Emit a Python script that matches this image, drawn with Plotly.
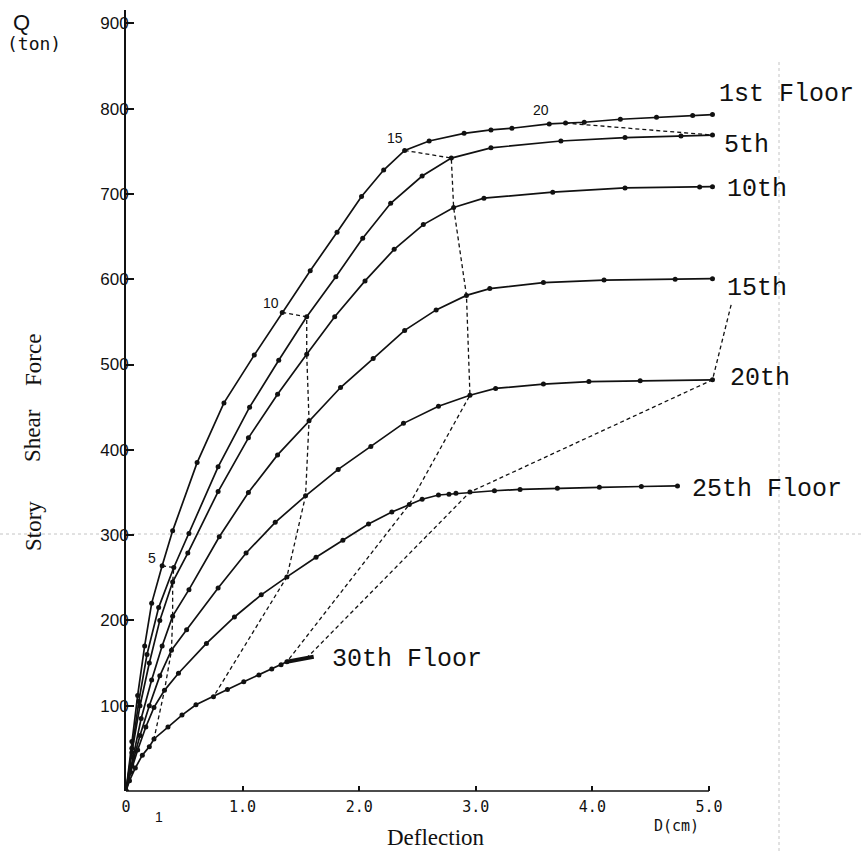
import plotly.graph_objects as go

# ---- story shear force Q (ton) vs. deflection D (cm), one curve per floor ----
FLOORS = ["1st", "5th", "10th", "15th", "20th", "25th", "30th"]

D_1ST = [0, 0.05, 0.10, 0.16, 0.22, 0.31, 0.40, 0.61, 0.84, 1.10, 1.34, 1.58, 1.81, 2.02,
         2.21, 2.39, 2.60, 2.90, 3.13, 3.31, 3.63, 3.77, 3.93, 4.24, 4.55, 4.86, 5.03]
Q_1ST = [0, 58, 112, 170, 220, 264, 305, 385, 455, 511, 561, 610, 655, 697,
         728, 751, 762, 771, 775, 777, 782, 783, 784, 787.5, 790, 792, 793]

D_5TH = [0, 0.05, 0.11, 0.18, 0.28, 0.41, 0.54, 0.79, 1.06, 1.31, 1.55, 1.80, 2.03, 2.27,
         2.54, 2.79, 3.13, 3.73, 4.28, 4.76, 5.03]
Q_5TH = [0, 50, 105, 160, 215, 262, 302, 380, 450, 505, 556, 603, 648, 689,
         721, 742, 754, 762, 766, 768, 769]

D_10TH = [0, 0.05, 0.12, 0.20, 0.29, 0.40, 0.53, 0.79, 1.05, 1.30, 1.55, 1.79, 2.05, 2.30,
          2.55, 2.81, 3.07, 3.66, 4.28, 4.92, 5.03]
Q_10TH = [0, 45, 100, 150, 200, 245, 279, 351, 414, 465, 512, 556, 598, 635,
          664, 684, 695, 702, 707, 708, 708.5]

D_15TH = [0, 0.06, 0.13, 0.22, 0.31, 0.40, 0.54, 0.80, 1.05, 1.30, 1.57, 1.84, 2.12, 2.39,
          2.66, 2.92, 3.12, 3.58, 4.10, 4.71, 5.03]
Q_15TH = [0, 40, 85, 130, 170, 205, 236, 298, 350, 394, 434, 473, 507, 540,
          564, 581, 589, 596, 599, 600, 600.6]

D_20TH = [0, 0.05, 0.12, 0.20, 0.29, 0.39, 0.52, 0.79, 1.03, 1.28, 1.54, 1.82, 2.10, 2.38,
          2.68, 2.95, 3.17, 3.58, 3.97, 4.41, 5.03]
Q_20TH = [0, 30, 65, 100, 135, 165, 189, 238, 279, 315, 346, 377, 404, 431,
          451, 464, 472, 477, 480, 481, 482]

D_25TH = [0, 0.04, 0.10, 0.17, 0.24, 0.33, 0.45, 0.69, 0.93, 1.16, 1.38, 1.63, 1.86, 2.08,
          2.28, 2.43, 2.54, 2.68, 2.77, 2.83, 2.95, 3.16, 3.38, 3.70, 4.06, 4.42, 4.73]
Q_25TH = [0, 22, 48, 75, 98, 118, 138, 173, 204, 230, 251, 274, 294, 313,
          327, 336, 342, 347, 348, 349, 350.5, 352, 353.5, 355, 356, 357, 357.6]

# last two points of the 30th floor form the heavy end stroke
D_30TH = [0, 0.03, 0.08, 0.14, 0.20, 0.24, 0.36, 0.48, 0.60, 0.75, 0.87, 1.01, 1.14, 1.25,
          1.33, 1.38, 1.55, 1.61]
Q_30TH = [0, 12, 27, 42, 52, 61, 75, 89, 101, 110.5, 119, 128, 136, 143,
          148, 151.5, 156, 157.4]

CURVES = [(D_1ST, Q_1ST), (D_5TH, Q_5TH), (D_10TH, Q_10TH), (D_15TH, Q_15TH),
          (D_20TH, Q_20TH), (D_25TH, Q_25TH), (D_30TH, Q_30TH)]

# index of each load step on each floor curve (None: beyond the drawn range)
STEP_INDEX = {
    5:  [5, 5, 5, 5, 5, 5, 5],
    10: [10, 10, 10, 10, 10, 10, 9],
    15: [15, 15, 15, 15, 15, 15, 15],
    20: [21, 20, None, None, 20, 20, 16],
}
# visible start of the step-20 line below the 15th floor label
STEP20_15TH_D, STEP20_15TH_Q = 5.19, 570

STEP_LABELS = ["5", "10", "15", "20"]
STEP_LABEL_D = [0.22, 1.24, 2.31, 3.56]
STEP_LABEL_Q = [273, 572, 765, 798]

X_TICKS = [0, 1, 2, 3, 4, 5]
X_TICKTEXT = ["0", "1.0", "2.0", "3.0", "4.0", "5.0"]
Y_TICKS = [100, 200, 300, 400, 500, 600, 700, 800, 900]

# floor name labels: (text, D, Q) of their left/middle anchor
FLOOR_LABELS = [("1st Floor", 5.07, 816), ("5th", 5.11, 757), ("10th", 5.14, 705),
                ("15th", 5.14, 589), ("20th", 5.16, 484), ("25th Floor", 4.84, 353),
                ("30th Floor", 1.75, 154)]

# ---- geometry of the page ----
W, H = 863, 851
ML, MR, MT, MB = 126, 118, 10, 60
PW, PH = W - ML - MR, H - MT - MB
X_MAX = 5.309
Y_MAX = 915.6


def paper(px, py):
    return (px - ML) / PW, (H - MB - py) / PH


BLACK = "#111111"
fig = go.Figure()

# dashed lines joining equal load steps
for step, idx in STEP_INDEX.items():
    runs, cur = [], []
    for f, i in enumerate(idx):
        if i is None:
            if step == 20 and FLOORS[f] == "15th":
                if cur:
                    runs.append(cur)
                cur = [(STEP20_15TH_D, STEP20_15TH_Q)]
                continue
            if cur:
                runs.append(cur)
            cur = []
            continue
        d, q = CURVES[f]
        cur.append((d[i], q[i]))
    if cur:
        runs.append(cur)
    for run in runs:
        if len(run) < 2:
            continue
        fig.add_trace(go.Scatter(
            x=[p[0] for p in run], y=[p[1] for p in run], mode="lines",
            line=dict(color=BLACK, width=1.3, dash="4px,3px"),
            hoverinfo="skip", showlegend=False))

# floor curves
for name, (d, q) in zip(FLOORS, CURVES):
    if name == "30th":
        body_d, body_q = d[:16], q[:16]
        fig.add_trace(go.Scatter(x=d[15:], y=q[15:], mode="lines",
                                 line=dict(color=BLACK, width=4), showlegend=False,
                                 hoverinfo="skip"))
    else:
        body_d, body_q = d, q
    fig.add_trace(go.Scatter(
        x=body_d, y=body_q, mode="lines+markers", name=name,
        line=dict(color=BLACK, width=1.7),
        marker=dict(color=BLACK, size=5),
        showlegend=False))

annotations = []

# floor labels
for text, d, q in FLOOR_LABELS:
    annotations.append(dict(x=d, y=q, xref="x", yref="y", text=text, showarrow=False,
                            xanchor="left", yanchor="middle",
                            font=dict(family="Liberation Mono", size=25, color=BLACK)))

# load-step numbers
for t, d, q in zip(STEP_LABELS, STEP_LABEL_D, STEP_LABEL_Q):
    annotations.append(dict(x=d, y=q, xref="x", yref="y", text=t, showarrow=False,
                            xanchor="center", yanchor="middle",
                            font=dict(family="Liberation Sans", size=14, color=BLACK)))


def page_text(text, px, py, size, family, angle=0):
    x, y = paper(px, py)
    annotations.append(dict(x=x, y=y, xref="paper", yref="paper", text=text,
                            showarrow=False, xanchor="center", yanchor="middle",
                            textangle=angle,
                            font=dict(family=family, size=size, color=BLACK)))


page_text("Q", 21, 22, 22, "Liberation Sans")
page_text("(ton)", 34, 44, 18, "DejaVu Sans Mono")
page_text("Story", 33, 526, 23, "Liberation Serif", -90)
page_text("Shear", 33, 436, 23, "Liberation Serif", -90)
page_text("Force", 33, 360, 23, "Liberation Serif", -90)
page_text("Deflection", 436, 838, 23, "Liberation Serif")
page_text("D(cm)", 676, 826, 15, "DejaVu Sans Mono")
page_text("1", 159, 817, 14, "Liberation Sans")

shapes = []
# x axis line, ending at 5.0 cm
shapes.append(dict(type="line", xref="paper", yref="paper", x0=0, x1=5.0 / X_MAX,
                   y0=0, y1=0, line=dict(color=BLACK, width=1.6)))
# faint paste-up guide lines
gx0, gy = paper(0, 534)
gx1, _ = paper(W, 534)
shapes.append(dict(type="line", xref="paper", yref="paper", x0=gx0, x1=gx1, y0=gy, y1=gy,
                   line=dict(color="#c4c4c4", width=1, dash="dot"), layer="below"))
vx, vy0 = paper(779, H)
_, vy1 = paper(779, 60)
shapes.append(dict(type="line", xref="paper", yref="paper", x0=vx, x1=vx, y0=vy0, y1=vy1,
                   line=dict(color="#c4c4c4", width=1, dash="dot"), layer="below"))

fig.update_layout(
    width=W, height=H,
    margin=dict(l=ML, r=MR, t=MT, b=MB, pad=0),
    paper_bgcolor="white", plot_bgcolor="white",
    showlegend=False,
    annotations=annotations,
    shapes=shapes,
    xaxis=dict(range=[0, X_MAX], showline=False, showgrid=False, zeroline=False,
               ticks="inside", ticklen=5, tickwidth=1.5, tickcolor=BLACK,
               tickvals=X_TICKS, ticktext=X_TICKTEXT, ticklabelstandoff=5,
               tickfont=dict(family="DejaVu Sans Mono", size=15, color=BLACK)),
    yaxis=dict(range=[0, Y_MAX], showline=True, linewidth=1.8, linecolor=BLACK,
               showgrid=False, zeroline=False,
               ticks="inside", ticklen=8, tickwidth=1.5, tickcolor=BLACK,
               tickvals=Y_TICKS, ticklabelstandoff=-8,
               tickfont=dict(family="Liberation Sans", size=17, color=BLACK)),
)

fig.write_html("out.html")
